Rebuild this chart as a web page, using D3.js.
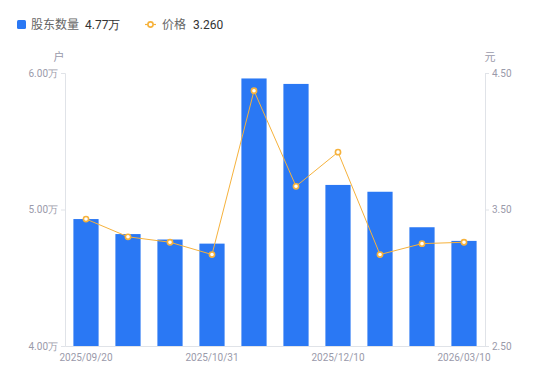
<!DOCTYPE html>
<html><head><meta charset="utf-8">
<script src="https://cdn.jsdelivr.net/npm/d3@7"></script>
<style>body{margin:0;background:#fff;font-family:"Noto Sans CJK SC","Noto Sans",sans-serif;}</style>
</head><body><svg id="c" width="550" height="381"></svg>
<script>
const dates = ["2025/09/20","2025/09/30","2025/10/20","2025/10/31","2025/11/10","2025/11/20","2025/12/10","2025/12/31","2026/02/10","2026/03/10"];
const holders = [4.93,4.82,4.78,4.75,5.96,5.92,5.18,5.13,4.87,4.77];
const prices = [3.43,3.30,3.26,3.17,4.37,3.67,3.92,3.17,3.25,3.26];
const leftTicks = [4,5,6];
const rightTicks = [2.5,3.5,4.5];

const svg = d3.select("#c");
const L=65,R=485,T=73,B=346;
const x = d3.scaleBand().domain(dates).range([L,R]).paddingInner(0.4).paddingOuter(0.2);
const yL = d3.scaleLinear().domain([4,6]).range([B,T]);
const yR = d3.scaleLinear().domain([2.5,4.5]).range([B,T]);
const axisCol="#e0e3e8", txtCol="#9a9aaa";

// bars
svg.append("g").selectAll("rect").data(holders).join("rect")
  .attr("x",(d,i)=>x(dates[i])).attr("width",x.bandwidth())
  .attr("y",d=>yL(d)).attr("height",d=>B-yL(d)).attr("fill","#2a78f4");

// axes
const gl = svg.append("g").attr("transform",`translate(${L},0)`)
  .call(d3.axisLeft(yL).tickValues(leftTicks).tickSize(4).tickPadding(3).tickFormat(d=>d3.format(".2f")(d)+"万"));
const gr = svg.append("g").attr("transform",`translate(${R},0)`)
  .call(d3.axisRight(yR).tickValues(rightTicks).tickSize(4).tickPadding(3).tickFormat(d3.format(".2f")));
const gb = svg.append("g").attr("transform",`translate(0,${B})`)
  .call(d3.axisBottom(x).tickValues(dates.filter((d,i)=>i%3===0)).tickSize(0).tickPadding(6));
[gl,gr,gb].forEach(g=>{
  g.selectAll("path,line").attr("stroke",axisCol);
  g.selectAll("text").attr("fill",txtCol).attr("font-size",10).attr("font-family","Roboto,'Noto Sans',sans-serif");
});
gb.selectAll("text").attr("dy","0.9em");

// unit labels
svg.append("text").attr("x",59).attr("y",61).attr("text-anchor","middle").attr("fill",txtCol).attr("font-size",11).text("户");
svg.append("text").attr("x",490).attr("y",61).attr("text-anchor","middle").attr("fill",txtCol).attr("font-size",11).text("元");

// line
const lc="#f6b23c";
const cx=(i)=>x(dates[i])+x.bandwidth()/2;
svg.append("path").datum(prices).attr("fill","none").attr("stroke",lc).attr("stroke-width",1)
  .attr("d",d3.line().x((d,i)=>cx(i)).y(d=>yR(d)));
svg.append("g").selectAll("circle").data(prices).join("circle")
  .attr("cx",(d,i)=>cx(i)).attr("cy",d=>yR(d)).attr("r",2.6)
  .attr("fill","#fff").attr("stroke",lc).attr("stroke-width",1.6);

// legend
const lg=svg.append("g");
lg.append("rect").attr("x",17).attr("y",20).attr("width",9).attr("height",9).attr("rx",1.5).attr("fill","#2a78f4");
lg.append("text").attr("x",31).attr("y",29).attr("font-size",12).attr("fill","#666").text("股东数量");
lg.append("text").attr("x",85).attr("y",29).attr("font-size",12).attr("fill","#333").attr("font-family","Roboto,'Noto Sans',sans-serif").text(d3.format(".2f")(holders[holders.length-1])+"万");
lg.append("line").attr("x1",145).attr("x2",156).attr("y1",24.5).attr("y2",24.5).attr("stroke",lc).attr("stroke-width",1.2);
lg.append("circle").attr("cx",150.5).attr("cy",24.5).attr("r",2.6).attr("fill","#fff").attr("stroke",lc).attr("stroke-width",1.6);
lg.append("text").attr("x",162).attr("y",29).attr("font-size",12).attr("fill","#666").text("价格");
lg.append("text").attr("x",193).attr("y",29).attr("font-size",12).attr("fill","#333").attr("font-family","Roboto,'Noto Sans',sans-serif").text(d3.format(".3f")(prices[prices.length-1]));
</script></body></html>
